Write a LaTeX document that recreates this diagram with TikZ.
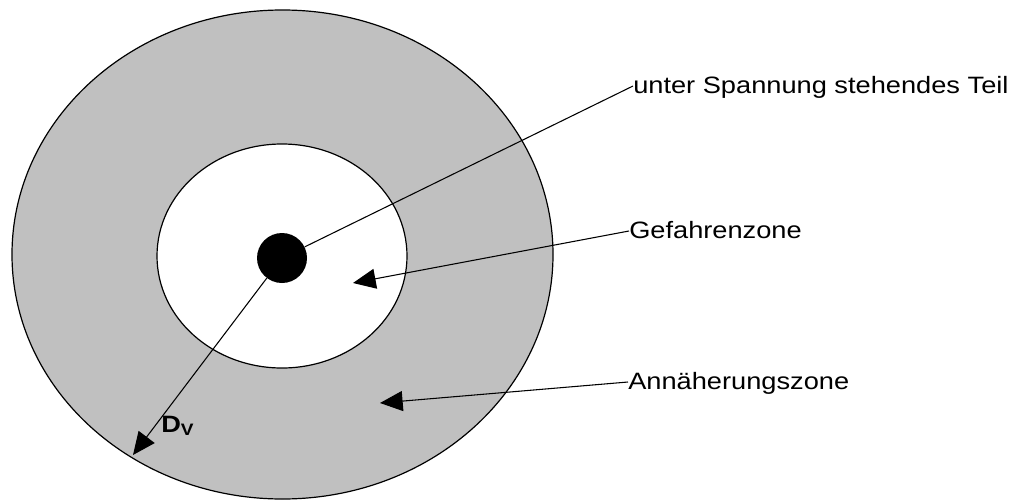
\documentclass[tikz,border=0pt]{standalone}
\usepackage{fontspec}
\setmainfont{Liberation Sans}[FakeStretch=1.15]
\usetikzlibrary{arrows.meta}
\definecolor{zonegray}{RGB}{192,192,192}
\begin{document}
\begin{tikzpicture}[x=0.75pt,y=-0.75pt,
  lbl/.style={font=\fontsize{17.75pt}{20pt}\selectfont, inner sep=0pt,
    text height=10.5pt, text depth=0pt, anchor=base west},
  conn/.style={line width=0.8pt},
  arr/.style={line width=0.8pt, -{Triangle[length=17pt,width=15pt]}},
  zone/.style={draw=black, line width=0.9pt}
]
\useasboundingbox (0,0) rectangle (1021,500);
% zones
\path[zone, fill=zonegray] (282.5,254.5) ellipse [x radius=270.5, y radius=244.5];
\path[zone, fill=white] (282,256) ellipse [x radius=125, y radius=112];
% live part
\node[circle, fill=black, minimum size=37.5pt, inner sep=0pt] (dot) at (282,258) {};
% labels
\node[lbl] (t1) at (633,93) {unter Spannung stehendes Teil};
\node[lbl] (t2) at (629,238) {Gefahrenzone};
\node[lbl] (t3) at (628,389) {Annäherungszone};
\coordinate (tipG) at (353,283);
\coordinate (tipA) at (380,403);
\coordinate (tipD) at (133,455);
% connectors
\draw[conn] (dot) -- (t1.west);
\draw[arr] (t2.west) -- (tipG);
\draw[arr] (t3.west) -- (tipA);
\draw[arr] (dot) -- (tipD);
\node[anchor=base west, inner sep=0pt, font=\fontsize{17.75pt}{20pt}\selectfont\bfseries] (dv) at (161,432) {D\textsubscript{V}};
\end{tikzpicture}
\end{document}
